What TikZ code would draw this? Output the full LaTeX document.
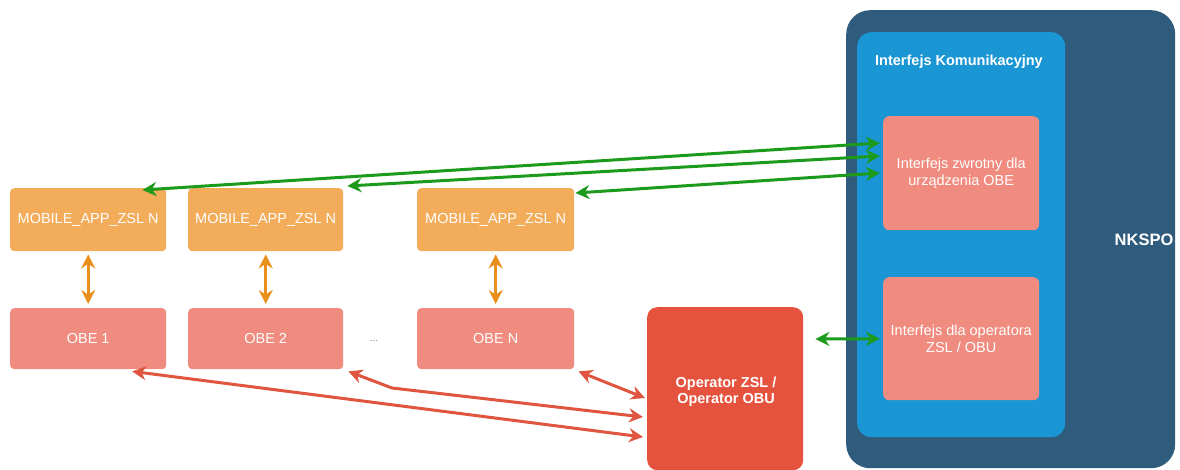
\documentclass[tikz,border=0pt]{standalone}
\usepackage{fontspec}
\setmainfont{Liberation Sans}
\usetikzlibrary{arrows.meta}

\definecolor{nkspoblue}{HTML}{2F5B7C}
\definecolor{ifblue}{HTML}{1996D3}
\definecolor{salmon}{HTML}{F08B7F}
\definecolor{appor}{HTML}{F2AC5A}
\definecolor{opred}{HTML}{E5533F}
\definecolor{linkgreen}{HTML}{1C9A1C}
\definecolor{linkor}{HTML}{E8901B}
\definecolor{linkred}{HTML}{E0553F}

\tikzset{
  box/.style={rounded corners=4pt, text=white, align=center, inner sep=0pt,
    anchor=north west, font=\fontsize{14.5}{17}\selectfont},
  appbox/.style={box, fill=appor, minimum height=63pt},
  obebox/.style={box, fill=salmon, minimum height=61pt},
  ifbox/.style={box, fill=salmon, minimum width=156pt, rounded corners=6pt},
  link/.style={line width=3pt, {Stealth[length=14pt,width=14pt]}-{Stealth[length=14pt,width=14pt]}},
  greenlink/.style={link, draw=linkgreen},
  orlink/.style={link, draw=linkor, shorten <=3pt, shorten >=4pt},
  redlink/.style={link, draw=linkred},
}

\begin{document}
\begin{tikzpicture}[x=1pt,y=-1pt]
  \useasboundingbox (0,0) rectangle (1180,470);

  % NKSPO system
  \node[box, fill=nkspoblue, rounded corners=24pt, minimum width=329pt, minimum height=458pt] (nkspo) at (846,10) {};
  \node[text=white, font=\bfseries\fontsize{16.5}{19}\selectfont] (nkspolbl) at (1144,240) {NKSPO};
  \node[box, fill=ifblue, rounded corners=14pt, minimum width=208pt, minimum height=405pt] (iface) at (857,32) {};
  \node[text=white, font=\bfseries\fontsize{14.5}{17}\selectfont] (ifacelbl) at (959,62) {Interfejs Komunikacyjny};
  \node[ifbox, minimum height=114pt] (ret) at (883,116) {Interfejs zwrotny dla\\urządzenia OBE};
  \node[ifbox, minimum height=123pt] (opif) at (883,277) {Interfejs dla operatora\\ZSL / OBU};

  % operator
  \node[box, fill=opred, rounded corners=10pt, minimum width=156pt, minimum height=163pt] (op) at (647,307) {};
  \node[text=white, align=center, font=\bfseries\fontsize{14.5}{16}\selectfont] (oplbl) at (726,392) {Operator ZSL /\\Operator OBU};

  % mobile apps and OBE
  \node[appbox, minimum width=156pt] (app1) at (10,188) {MOBILE\_APP\_ZSL N};
  \node[appbox, minimum width=155pt] (app2) at (188,188) {MOBILE\_APP\_ZSL N};
  \node[appbox, minimum width=157pt] (app3) at (417,188) {MOBILE\_APP\_ZSL N};
  \node[obebox, minimum width=156pt] (obe1) at (10,308) {OBE 1};
  \node[obebox, minimum width=155pt] (obe2) at (188,308) {OBE 2};
  \node[obebox, minimum width=157pt] (obeN) at (417,308) {OBE N};
  \node[text=gray, font=\fontsize{10}{12}\selectfont] (dots) at (374,341) {...};

  \draw[orlink] (app1) -- (obe1);
  \draw[orlink] (app2) -- (obe2);
  \draw[orlink] (app3) -- (obeN);

  % links to NKSPO
  \draw[greenlink] ([shift={(-24pt,-2pt)}]app1.north east) -- ([shift={(-3pt,-27pt)}]ret.north west);
  \draw[greenlink] ([shift={(4pt,2pt)}]app2.north east) -- ([shift={(-3pt,-40pt)}]ret.north west);
  \draw[greenlink] ([shift={(1pt,-5pt)}]app3.north east) -- ([shift={(-3pt,-57pt)}]ret.north west);
  \draw[greenlink] ([shift={(12pt,-32pt)}]op.north east) -- ([xshift=-3pt]opif.west);

  % links to operator
  \coordinate (bend) at (392,388);
  \draw[redlink] ([shift={(44pt,-2pt)}]obe1.south) -- ([shift={(-4pt,-130pt)}]op.north west);
  \draw[redlink] ([shift={(5pt,-2pt)}]obe2.south east) -- (bend) -- ([shift={(-4pt,-110pt)}]op.north west);
  \draw[redlink] ([shift={(4pt,-2pt)}]obeN.south east) -- ([shift={(-2pt,-91pt)}]op.north west);
\end{tikzpicture}
\end{document}
